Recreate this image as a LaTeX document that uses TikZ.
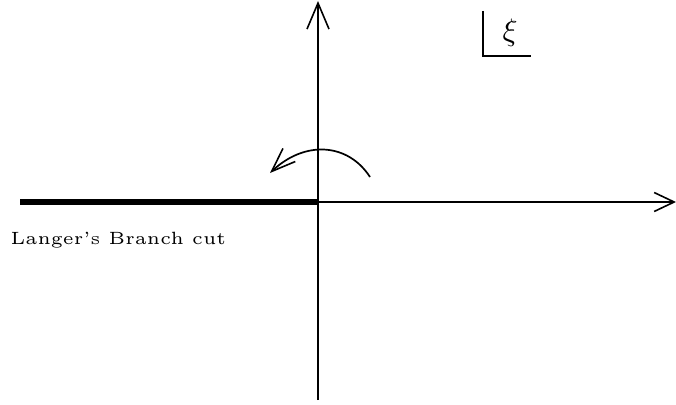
\documentclass[tikz,border=0pt]{standalone}
\usetikzlibrary{arrows.meta}
\begin{document}
\begin{tikzpicture}[x=1pt,y=-1pt,
  haxis/.style={line width=1.7pt,-{Straight Barb[length=20pt,width=19pt,line width=1.6pt]}},
  vaxis/.style={line width=1.7pt,-{Straight Barb[length=26pt,width=22pt,line width=1.6pt]}},
  turn/.style={line width=1.7pt,-{Straight Barb[length=24pt,width=18pt,line width=1.6pt,quick]}},
  cut/.style={line width=5.5pt},
  lbl/.style={inner sep=0pt,font=\tiny,scale=3.55,transform shape}]
\useasboundingbox (0,0) rectangle (676,404);
\coordinate (O) at (318,202);
\coordinate (xend) at (676,202);
\coordinate (ybot) at (318,400);
\coordinate (ytop) at (318,1);
\coordinate (cutstart) at (20,202);
\draw[haxis] (O) -- (xend);
\draw[vaxis] (ybot) -- (ytop);
\draw[cut] (cutstart) -- (O);
\node[lbl,anchor=base west] (label) at (10,244) {Langer's Branch cut};
% rotation arrow
\coordinate (arcstart) at (370,177);
\coordinate (c1) at (348,143);
\coordinate (c2) at (305,140);
\coordinate (arcend) at (270,173);
\draw[turn] (arcstart) .. controls (c1) and (c2) .. (arcend);
% xi box
\coordinate (bxtop) at (483,11);
\coordinate (bxcorner) at (483,56);
\coordinate (bxright) at (531,56);
\draw[line width=1.7pt] (bxtop) -- (bxcorner) -- (bxright);
\node[inner sep=0pt,scale=3.1,transform shape] (xi) at (510,33) {$\xi$};
\end{tikzpicture}
\end{document}
